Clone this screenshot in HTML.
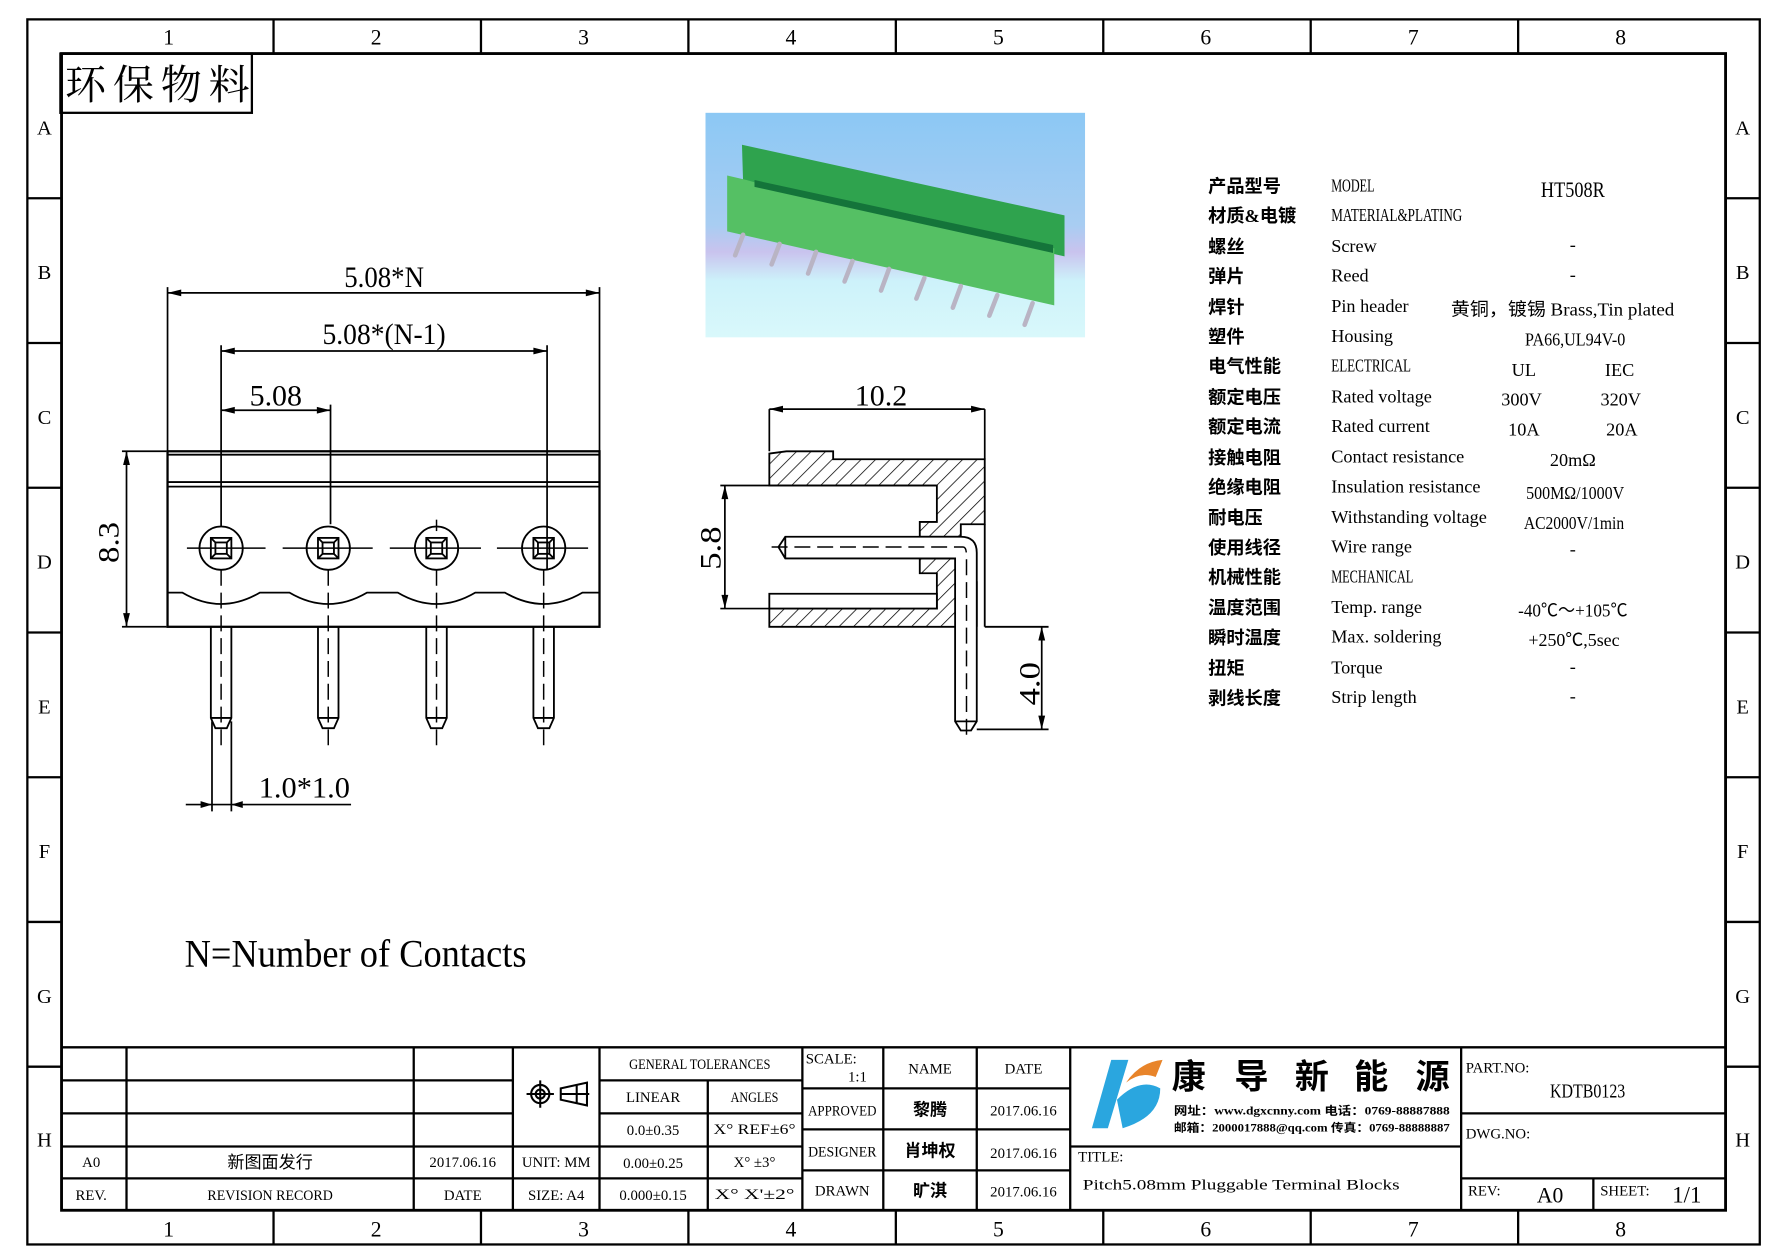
<!DOCTYPE html>
<html><head><meta charset="utf-8"><style>
html,body{margin:0;padding:0;background:#fff}
svg{display:block}
text{font-family:"Liberation Serif","Noto Sans CJK SC",serif;fill:#000}
.s{font-family:"Liberation Sans","Noto Sans CJK SC",sans-serif}
.c{font-family:"Liberation Sans","Noto Sans CJK SC",sans-serif;font-weight:bold}
</style></head><body>
<svg width="1778" height="1257" viewBox="0 0 1560 1103" preserveAspectRatio="none" xmlns="http://www.w3.org/2000/svg">
<defs>
<pattern id="h" patternUnits="userSpaceOnUse" width="9" height="9" patternTransform="rotate(45)">
<rect width="9" height="9" fill="#fff"/><line x1="0" y1="0" x2="0" y2="9" stroke="#000" stroke-width="1.3"/>
</pattern>
<linearGradient id="bg" x1="0" y1="0" x2="0" y2="1">
<stop offset="0" stop-color="#8cc8f4"/><stop offset="0.5" stop-color="#a8cdf2"/><stop offset="0.62" stop-color="#c9c3ee"/><stop offset="0.75" stop-color="#cdf2fa"/><stop offset="1" stop-color="#d9f8fb"/>
</linearGradient>
</defs>
<rect width="1560" height="1103" fill="#fff"/>
<g fill="none" stroke="#000">
<rect x="24" y="17" width="1520" height="1075" stroke-width="2"/>
<rect x="54" y="47" width="1460" height="1015" stroke-width="2.5"/>
<path d="M240 17V47M422 17V47M604 17V47M786 17V47M968 17V47M1150 17V47M1332 17V47 M240 1062V1092M422 1062V1092M604 1062V1092M786 1062V1092M968 1062V1092M1150 1062V1092M1332 1062V1092 M24 174H54M24 301H54M24 428H54M24 555H54M24 682H54M24 809H54M24 936H54 M1514 174H1544M1514 301H1544M1514 428H1544M1514 555H1544M1514 682H1544M1514 809H1544M1514 936H1544" stroke-width="2"/>
</g>
<g class="s" font-size="19" text-anchor="middle">
<text x="148" y="39">1</text><text x="330" y="39">2</text><text x="512" y="39">3</text><text x="694" y="39">4</text><text x="876" y="39">5</text><text x="1058" y="39">6</text><text x="1240" y="39">7</text><text x="1422" y="39">8</text>
<text x="148" y="1085">1</text><text x="330" y="1085">2</text><text x="512" y="1085">3</text><text x="694" y="1085">4</text><text x="876" y="1085">5</text><text x="1058" y="1085">6</text><text x="1240" y="1085">7</text><text x="1422" y="1085">8</text>
</g>
<g class="s" font-size="18" text-anchor="middle">
<text x="39" y="118">A</text><text x="39" y="245">B</text><text x="39" y="372">C</text><text x="39" y="499">D</text><text x="39" y="626">E</text><text x="39" y="753">F</text><text x="39" y="880">G</text><text x="39" y="1006">H</text>
<text x="1529" y="118">A</text><text x="1529" y="245">B</text><text x="1529" y="372">C</text><text x="1529" y="499">D</text><text x="1529" y="626">E</text><text x="1529" y="753">F</text><text x="1529" y="880">G</text><text x="1529" y="1006">H</text>
</g>
<rect x="53" y="47" width="168" height="52" fill="none" stroke="#000" stroke-width="2"/>
<text x="57" y="87" font-size="36" textLength="162" style="font-family:'Noto Serif CJK SC','Noto Sans CJK SC',serif">环保物料</text>

<g fill="none" stroke="#000" stroke-width="1.6">
<rect x="147" y="396" width="379" height="154" stroke-width="2"/>
<line x1="147" y1="399" x2="526" y2="399"/>
<line x1="147" y1="423" x2="526" y2="423"/><line x1="147" y1="427" x2="526" y2="427"/>
<path d="M147 520H160 Q194 540 228 520 H254 Q288 540 322 520 H349 Q383 540 417 520 H443 Q477 540 511 520 H526"/>
</g>
<g fill="none" stroke="#000" stroke-width="1.6">
<g transform="translate(194,481)"><circle r="19"/><rect x="-9" y="-9" width="18" height="18"/><rect x="-5" y="-5" width="10" height="10"/><path d="M-9 -9L-5 -5M9 -9L5 -5M-9 9L-5 5M9 9L5 5"/></g>
<g transform="translate(288,481)"><circle r="19"/><rect x="-9" y="-9" width="18" height="18"/><rect x="-5" y="-5" width="10" height="10"/><path d="M-9 -9L-5 -5M9 -9L5 -5M-9 9L-5 5M9 9L5 5"/></g>
<g transform="translate(383,481)"><circle r="19"/><rect x="-9" y="-9" width="18" height="18"/><rect x="-5" y="-5" width="10" height="10"/><path d="M-9 -9L-5 -5M9 -9L5 -5M-9 9L-5 5M9 9L5 5"/></g>
<g transform="translate(477,481)"><circle r="19"/><rect x="-9" y="-9" width="18" height="18"/><rect x="-5" y="-5" width="10" height="10"/><path d="M-9 -9L-5 -5M9 -9L5 -5M-9 9L-5 5M9 9L5 5"/></g>
<path d="M164 481H233M248 481H327M342 481H422M436 481H516" stroke-width="1.3"/>
<path d="M383 456V466" stroke-width="1.3"/>
<path d="M185 550V630L189 639H199L203 630V550 M185 630H203"/>
<path d="M279 550V630L283 639H293L297 630V550 M279 630H297"/>
<path d="M374 550V630L378 639H388L392 630V550 M374 630H392"/>
<path d="M468 550V630L472 639H482L486 630V550 M468 630H486"/>
<path d="M194 500V655M288 500V655M383 500V655M477 500V655" stroke-width="1.3" stroke-dasharray="14,6"/>
</g>
<g fill="none" stroke="#000" stroke-width="1.5">
<path d="M147 252V396M526 252V396M147 257H526"/>
<path d="M194 303V462M480 303V500M194 308H480"/>
<path d="M290 355V460M194 360H290"/>
<path d="M107 396H146M107 550H146M111 396V550"/>
<path d="M186 633V712M203 633V712M163 706H308"/>
</g>
<g fill="#000">
<path d="M147 257l12-3v6zM526 257l-12-3v6zM194 308l12-3v6zM480 308l-12-3v6zM194 360l12-3v6zM290 360l-12-3v6zM111 396l-3 12h6zM111 550l-3-12h6zM186 706l-10-3v6zM203 706l10-3v6z"/>
</g>
<g font-size="26" text-anchor="middle">
<text x="337" y="252" textLength="70" lengthAdjust="spacingAndGlyphs">5.08*N</text>
<text x="337" y="302" textLength="108" lengthAdjust="spacingAndGlyphs">5.08*(N-1)</text>
<text x="242" y="356" textLength="46" lengthAdjust="spacingAndGlyphs">5.08</text>
<text x="267" y="700" textLength="80" lengthAdjust="spacingAndGlyphs">1.0*1.0</text>
<text transform="translate(104,476) rotate(-90)" textLength="36" lengthAdjust="spacingAndGlyphs">8.3</text>
</g>
<text x="162" y="848" font-size="34" textLength="300" lengthAdjust="spacingAndGlyphs">N=Number of Contacts</text>

<g stroke="#000" stroke-width="1.6">
<path d="M675 398L690 396H731V403H864V460H843V471H807V458H822V426H675Z" fill="url(#h)"/>
<path d="M807 490H843V550H675V534H822V503H807Z" fill="url(#h)"/>
<path d="M675 521H822V534H675Z" fill="#fff"/>
<path d="M864 460V550M857 510V550M864 550H920M857 640H920" fill="none"/>
<path d="M683 480L689 471H843Q857 471 857 485V633L852 641H843L838 633V490H689L683 480Z" fill="#fff"/>
<path d="M838 633H857M689 471V490" fill="none"/>
<path d="M677 480H845Q848 480 848 488V650" fill="none" stroke-width="1.3" stroke-dasharray="14,6"/>
<path d="M675 359V396M864 359V403M675 359H864M632 426H822M632 534H675M636 426V534M914 550V640" fill="none" stroke-width="1.5"/>
</g>
<g fill="#000">
<path d="M675 359l12-3v6zM864 359l-12-3v6zM636 426l-3 12h6zM636 534l-3-12h6zM914 550l-3 12h6zM914 640l-3-12h6z"/>
</g>
<g font-size="26" text-anchor="middle">
<text x="773" y="356" textLength="46" lengthAdjust="spacingAndGlyphs">10.2</text>
<text transform="translate(632,481) rotate(-90)" textLength="38" lengthAdjust="spacingAndGlyphs">5.8</text>
<text transform="translate(912,600) rotate(-90)" textLength="38" lengthAdjust="spacingAndGlyphs">4.0</text>
</g>

<rect x="619" y="99" width="333" height="197" fill="url(#bg)"/>
<polygon points="651,127 934,189 934,225 652,160" fill="#2fa34e"/>
<polygon points="638,154 655,158 680,165 720,172 760,180 800,188 840,197 880,206 925,218 925,268 638,203" fill="#55c064"/>
<polygon points="662,158 924,215 924,222 662,164" fill="#14743a"/>
<g stroke="#b9b4c4" stroke-width="4" stroke-linecap="round">
<line x1="652" y1="206" x2="645" y2="224"/><line x1="684" y1="214" x2="677" y2="232"/><line x1="716" y1="221" x2="709" y2="240"/><line x1="748" y1="229" x2="741" y2="247"/><line x1="780" y1="236" x2="773" y2="255"/><line x1="811" y1="244" x2="804" y2="262"/><line x1="843" y1="251" x2="836" y2="270"/><line x1="875" y1="259" x2="868" y2="277"/><line x1="906" y1="266" x2="899" y2="285"/>
</g>

<g class="c" font-size="16" font-weight="bold">
<text x="1060" y="169">产品型号</text><text x="1060" y="195">材质&amp;电镀</text><text x="1060" y="222">螺丝</text><text x="1060" y="248">弹片</text><text x="1060" y="275">焊针</text><text x="1060" y="301">塑件</text><text x="1060" y="327">电气性能</text><text x="1060" y="354">额定电压</text><text x="1060" y="380">额定电流</text><text x="1060" y="407">接触电阻</text><text x="1060" y="433">绝缘电阻</text><text x="1060" y="460">耐电压</text><text x="1060" y="486">使用线径</text><text x="1060" y="512">机械性能</text><text x="1060" y="539">温度范围</text><text x="1060" y="565">瞬时温度</text><text x="1060" y="592">扭矩</text><text x="1060" y="618">剥线长度</text>
</g>
<g font-size="16">
<text x="1168" y="168" textLength="38" lengthAdjust="spacingAndGlyphs">MODEL</text>
<text x="1168" y="194" textLength="115" lengthAdjust="spacingAndGlyphs">MATERIAL&amp;PLATING</text>
<text x="1168" y="221">Screw</text><text x="1168" y="247">Reed</text><text x="1168" y="274">Pin header</text><text x="1168" y="300">Housing</text>
<text x="1168" y="326" textLength="70" lengthAdjust="spacingAndGlyphs">ELECTRICAL</text>
<text x="1168" y="353">Rated voltage</text><text x="1168" y="379">Rated current</text><text x="1168" y="406">Contact resistance</text><text x="1168" y="432">Insulation resistance</text><text x="1168" y="459">Withstanding voltage</text><text x="1168" y="485">Wire range</text>
<text x="1168" y="511" textLength="72" lengthAdjust="spacingAndGlyphs">MECHANICAL</text>
<text x="1168" y="538">Temp. range</text><text x="1168" y="564">Max. soldering</text><text x="1168" y="591">Torque</text><text x="1168" y="617">Strip length</text>
</g>
<g font-size="16" text-anchor="middle">
<text x="1380" y="173" font-size="19" textLength="56" lengthAdjust="spacingAndGlyphs">HT508R</text>
<text x="1380" y="220">-</text><text x="1380" y="246">-</text>
<text x="1371" y="277" textLength="196" lengthAdjust="spacingAndGlyphs">黄铜，镀锡 Brass,Tin plated</text>
<text x="1382" y="303" textLength="88" lengthAdjust="spacingAndGlyphs">PA66,UL94V-0</text>
<text x="1337" y="330">UL</text><text x="1421" y="330">IEC</text>
<text x="1335" y="356">300V</text><text x="1422" y="356">320V</text>
<text x="1337" y="382">10A</text><text x="1423" y="382">20A</text>
<text x="1380" y="409">20mΩ</text>
<text x="1382" y="438" textLength="86" lengthAdjust="spacingAndGlyphs">500MΩ/1000V</text>
<text x="1381" y="464" textLength="88" lengthAdjust="spacingAndGlyphs">AC2000V/1min</text>
<text x="1380" y="487">-</text>
<text x="1380" y="541" textLength="96" lengthAdjust="spacingAndGlyphs">-40℃～+105℃</text>
<text x="1381" y="567" textLength="80" lengthAdjust="spacingAndGlyphs">+250℃,5sec</text>
<text x="1380" y="590">-</text><text x="1380" y="616">-</text>
</g>

<g fill="none" stroke="#000" stroke-width="2">
<path d="M54 919H1514"/>
<path d="M54 948H450M54 977H450M54 1006H526M54 1034H704M526 948H704M526 977H704M526 1006H704"/>
<path d="M111 919V1062M363 919V1062M450 919V1062M526 919V1062M621 948V1062M704 919V1062"/>
<path d="M704 955H939M704 991H939M704 1027H939M775 919V1062M857 919V1062M939 919V1062"/>
<path d="M939 1006H1282M1282 919V1062M1282 977H1514M1282 1034H1514M1398 1034V1062"/>
</g>
<g font-size="13" text-anchor="middle">
<text x="614" y="938" textLength="124" lengthAdjust="spacingAndGlyphs">GENERAL TOLERANCES</text>
<text x="573" y="967">LINEAR</text><text x="662" y="967" textLength="42" lengthAdjust="spacingAndGlyphs">ANGLES</text>
<text x="573" y="996">0.0±0.35</text><text x="662" y="995" textLength="72" lengthAdjust="spacingAndGlyphs">X° REF±6°</text>
<text x="573" y="1025">0.00±0.25</text><text x="662" y="1024">X° ±3°</text>
<text x="573" y="1053">0.000±0.15</text><text x="662" y="1052" textLength="70" lengthAdjust="spacingAndGlyphs">X° X'±2°</text>
<text x="488" y="1024">UNIT: MM</text><text x="488" y="1053">SIZE: A4</text>
<text x="406" y="1024">2017.06.16</text><text x="406" y="1053">DATE</text>
<text x="80" y="1024">A0</text><text x="80" y="1053">REV.</text>
<text x="237" y="1053" textLength="110" lengthAdjust="spacingAndGlyphs">REVISION RECORD</text>
<text x="237" y="1025" class="s" font-size="15">新图面发行</text>
<text x="739" y="979" textLength="60" lengthAdjust="spacingAndGlyphs">APPROVED</text>
<text x="739" y="1015" textLength="60" lengthAdjust="spacingAndGlyphs">DESIGNER</text>
<text x="739" y="1049">DRAWN</text>
<text x="816" y="942">NAME</text><text x="898" y="942">DATE</text>
<text x="816" y="979" class="c" font-size="15">黎腾</text><text x="816" y="1015" class="c" font-size="15">肖坤权</text><text x="816" y="1050" class="c" font-size="15">旷淇</text>
<text x="898" y="979">2017.06.16</text><text x="898" y="1016">2017.06.16</text><text x="898" y="1050">2017.06.16</text>
</g>
<g font-size="13">
<text x="707" y="933">SCALE:</text><text x="744" y="949">1:1</text>
<text x="946" y="1019">TITLE:</text>
<text x="950" y="1044" textLength="278" lengthAdjust="spacingAndGlyphs">Pitch5.08mm Pluggable Terminal Blocks</text>
<text x="1286" y="941">PART.NO:</text>
<text x="1286" y="999">DWG.NO:</text>
<text x="1288" y="1049">REV:</text>
<text x="1404" y="1049">SHEET:</text>
</g>
<text x="1393" y="963" font-size="18" text-anchor="middle" textLength="66" lengthAdjust="spacingAndGlyphs">KDTB0123</text>
<text x="1360" y="1055" font-size="19" text-anchor="middle">A0</text>
<text x="1480" y="1055" font-size="20" text-anchor="middle">1/1</text>
<g fill="none" stroke="#000" stroke-width="1.8">
<circle cx="474" cy="960" r="8"/><circle cx="474" cy="960" r="4"/><path d="M462 960H486M474 948V972"/>
<path d="M492 955L515 950V970L492 965Z M492 960H517 M506 952V968"/>
</g>
<path d="M975 930L990 930L972 990L958 990Z" fill="#2aa6df"/>
<path d="M980 965Q1000 945 1018 955Q1018 980 985 990Z" fill="#2aa6df"/>
<path d="M988 950Q1000 932 1020 930L1014 945Q1000 940 988 950Z" fill="#e8842a"/>
<g class="c" font-size="30" fill="#000">
<text x="1028" y="955">康</text><text x="1083" y="955">导</text><text x="1136" y="955">新</text><text x="1188" y="955">能</text><text x="1242" y="955">源</text>
</g>
<g class="c" font-size="10">
<text x="1030" y="978" textLength="242" lengthAdjust="spacingAndGlyphs">网址：www.dgxcnny.com   电话：0769-88887888</text>
<text x="1030" y="993" textLength="242" lengthAdjust="spacingAndGlyphs">邮箱：2000017888@qq.com 传真：0769-88888887</text>
</g>
</svg>
</body></html>
